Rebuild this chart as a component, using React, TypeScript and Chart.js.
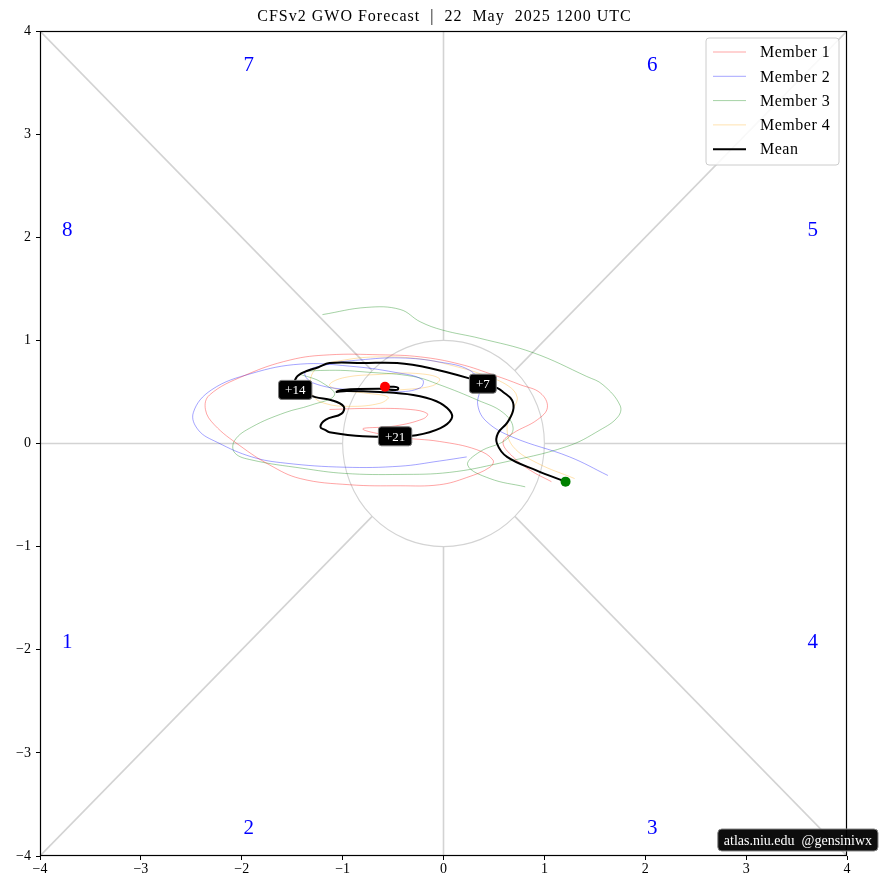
import React, { useEffect, useRef } from "react";
import { Chart, registerables } from "chart.js";

Chart.register(...registerables);

const SERIF = '"Liberation Serif", "DejaVu Serif", serif';

const TITLE = "CFSv2 GWO Forecast  |  22  May  2025 1200 UTC";
const WATERMARK = "atlas.niu.edu  @gensiniwx";
const AXIS_TICKS = [-4, -3, -2, -1, 0, 1, 2, 3, 4];

// Phase labels (text and their data positions)
const phaseLabels = ["1", "2", "3", "4", "5", "6", "7", "8"];
const phaseX = [-3.73, -1.93, 2.07, 3.66, 3.66, 2.07, -1.93, -3.73];
const phaseY = [-1.93, -3.73, -3.73, -1.93, 2.07, 3.67, 3.67, 2.07];

// Ensemble members
const member1X = [1.07, 0.86, 0.69, 0.59, 0.69, 0.93, 1.03, 0.96, 0.76, 0.51, 0.16, -0.23, -0.63, -1.13, -1.52, -1.97, -2.32, -2.36, -2.27, -2.02, -1.72, -1.42, -0.93, -0.43, -0.04, 0.23, 0.46, 0.49, 0.33, -0.04, -0.43, -0.8, -0.48, -0.2, -0.16, -0.33, -0.73, -1.13];
const member1Y = [-0.37, -0.26, -0.13, 0.01, 0.1, 0.23, 0.35, 0.49, 0.57, 0.66, 0.77, 0.84, 0.86, 0.86, 0.81, 0.66, 0.47, 0.33, 0.18, -0.02, -0.21, -0.34, -0.4, -0.41, -0.4, -0.33, -0.23, -0.16, -0.06, 0.02, 0.06, 0.14, 0.17, 0.24, 0.29, 0.33, 0.34, 0.33];

const member2X = [1.63, 1.25, 0.69, 0.43, 0.34, 0.36, 0.26, -0.04, -0.43, -0.83, -1.13, -1.37, -1.3, -0.93, -0.48, -0.23, -0.21, -0.48, -0.93, -1.42, -1.9, -2.3, -2.48, -2.43, -2.24, -1.9, -1.57, -0.98, -0.43, -0.04, 0.23];
const member2Y = [-0.31, -0.13, 0.06, 0.21, 0.37, 0.57, 0.71, 0.79, 0.83, 0.81, 0.77, 0.69, 0.59, 0.52, 0.5, 0.54, 0.62, 0.69, 0.75, 0.77, 0.68, 0.52, 0.3, 0.13, 0.01, -0.13, -0.19, -0.23, -0.22, -0.17, -0.13];

const member3X = [0.81, 0.46, 0.24, 0.36, 0.61, 0.69, 0.59, 0.34, -0.04, -0.3, -0.73, -1.13, -1.42, -1.22, -1.08, -1.32, -1.57, -1.9, -2.07, -2.07, -1.9, -1.4, -0.98, -0.43, 0.06, 0.56, 1.22, 1.55, 1.73, 1.75, 1.58, 1.42, 0.89, 0.36, -0.01, -0.23, -0.43, -0.76, -1.2];
const member3Y = [-0.42, -0.34, -0.21, -0.08, 0.03, 0.15, 0.3, 0.42, 0.57, 0.65, 0.69, 0.71, 0.68, 0.6, 0.47, 0.37, 0.3, 0.16, 0.03, -0.09, -0.16, -0.24, -0.29, -0.3, -0.28, -0.19, -0.03, 0.13, 0.26, 0.37, 0.57, 0.65, 0.88, 1.02, 1.1, 1.18, 1.3, 1.32, 1.25];

const member4X = [1.3, 0.93, 0.69, 0.63, 0.69, 0.73, 0.64, 0.41, 0.11, -0.23, -0.63, -0.98, -1.24, -1.32, -1.3, -1.18, -0.93, -0.63, -0.55, -0.78, -1.03, -1.13, -0.98, -0.63, -0.28, -0.04, -0.11, -0.43, -0.73];
const member4Y = [-0.34, -0.19, -0.03, 0.16, 0.33, 0.45, 0.56, 0.66, 0.75, 0.82, 0.84, 0.81, 0.74, 0.62, 0.47, 0.39, 0.36, 0.39, 0.45, 0.49, 0.52, 0.57, 0.64, 0.67, 0.68, 0.63, 0.56, 0.52, 0.5];

// Ensemble mean
const meanX = [1.21, 0.92, 0.63, 0.53, 0.54, 0.63, 0.69, 0.68, 0.59, 0.53, 0.39, 0.26, -0.13, -0.46, -0.8, -1.13, -1.24, -1.41, -1.47, -1.47, -1.27, -1.11, -0.99, -1.01, -1.17, -1.22, -1.17, -1.13, -0.8, -0.48, -0.27, -0.03, 0.08, 0.06, -0.07, -0.3, -0.63, -0.96, -1.06, -1.0, -0.63, -0.46, -0.45, -0.5, -0.58];
const meanY = [-0.37, -0.26, -0.13, 0.0, 0.1, 0.2, 0.32, 0.42, 0.5, 0.54, 0.58, 0.63, 0.73, 0.78, 0.78, 0.78, 0.74, 0.68, 0.62, 0.52, 0.45, 0.42, 0.36, 0.29, 0.23, 0.16, 0.13, 0.11, 0.07, 0.07, 0.08, 0.15, 0.24, 0.32, 0.41, 0.47, 0.5, 0.51, 0.5, 0.52, 0.53, 0.52, 0.54, 0.55, 0.55];

// Lead-time labels and the mean point they sit on
const leadLabels = ["+7", "+14", "+21"];
const leadPoint = [10, 19, 29];

const seriesLabels = ["Member 1", "Member 2", "Member 3", "Member 4", "Mean"];
const seriesColors = [
  "rgba(255,0,0,0.45)",
  "rgba(0,0,255,0.45)",
  "rgba(0,128,0,0.45)",
  "rgba(255,165,0,0.4)",
  "#000000",
];
const seriesWidths = [0.8, 0.8, 0.8, 0.8, 2];

// Guide segments (phase-diagram reference lines), data units
const guideSegments = [
  [-4, 0, -1, 0],
  [1, 0, 4, 0],
  [0, 1, 0, 4],
  [0, -1, 0, -4],
  [0.7071, 0.7071, 4, 4],
  [-0.7071, 0.7071, -4, 4],
  [-0.7071, -0.7071, -4, -4],
  [0.7071, -0.7071, 4, -4],
];

const zip = (xs: number[], ys: number[]) => xs.map((v, i) => ({ x: v, y: ys[i] }));

const fmtTick = (v: number | string) => {
  const n = Number(v);
  return n < 0 ? "\u2212" + Math.abs(n) : String(n);
};

const overlayPlugin = {
  id: "overlay",
  beforeDatasetsDraw(chart: any) {
    const { ctx, chartArea, scales } = chart;
    const xs = scales.x;
    const ys = scales.y;
    ctx.save();
    ctx.beginPath();
    ctx.rect(chartArea.left, chartArea.top, chartArea.width, chartArea.height);
    ctx.clip();
    ctx.strokeStyle = "#d3d3d3";
    ctx.lineWidth = 1.6;
    for (const [x0, y0, x1, y1] of guideSegments) {
      ctx.beginPath();
      ctx.moveTo(xs.getPixelForValue(x0), ys.getPixelForValue(y0));
      ctx.lineTo(xs.getPixelForValue(x1), ys.getPixelForValue(y1));
      ctx.stroke();
    }
    const cx = xs.getPixelForValue(0);
    const cy = ys.getPixelForValue(0);
    ctx.lineWidth = 1.1;
    ctx.beginPath();
    ctx.ellipse(cx, cy, xs.getPixelForValue(1) - cx, cy - ys.getPixelForValue(1), 0, 0, Math.PI * 2);
    ctx.stroke();

    ctx.fillStyle = "#0000ff";
    ctx.font = `21px ${SERIF}`;
    ctx.textAlign = "center";
    ctx.textBaseline = "middle";
    phaseLabels.forEach((t, i) => {
      ctx.fillText(t, xs.getPixelForValue(phaseX[i]), ys.getPixelForValue(phaseY[i]));
    });
    ctx.restore();
  },
  afterDatasetsDraw(chart: any) {
    const { ctx, scales } = chart;
    ctx.save();
    ctx.font = `13px ${SERIF}`;
    ctx.textAlign = "center";
    ctx.textBaseline = "middle";
    leadLabels.forEach((t, i) => {
      const k = leadPoint[i];
      const px = scales.x.getPixelForValue(meanX[k]);
      const py = scales.y.getPixelForValue(meanY[k]);
      const w = ctx.measureText(t).width + 13;
      const h = 19;
      ctx.beginPath();
      ctx.roundRect(px - w / 2, py - h / 2, w, h, 3);
      ctx.fillStyle = "#000";
      ctx.fill();
      ctx.strokeStyle = "#777";
      ctx.lineWidth = 1;
      ctx.stroke();
      ctx.fillStyle = "#fff";
      ctx.fillText(t, px, py + 1);
    });
    ctx.restore();
  },
  afterDraw(chart: any) {
    const { ctx, chartArea, width } = chart;
    ctx.save();
    // frame
    ctx.strokeStyle = "#000";
    ctx.lineWidth = 1.2;
    ctx.strokeRect(chartArea.left + 0.5, chartArea.top + 0.5, chartArea.width - 1, chartArea.height - 1);

    // title
    ctx.fillStyle = "#000";
    ctx.font = `16px ${SERIF}`;
    (ctx as any).letterSpacing = "1px";
    ctx.textAlign = "center";
    ctx.textBaseline = "middle";
    ctx.fillText(TITLE, (chartArea.left + chartArea.right) / 2 + 1, 17);

    // legend
    const lw = 133;
    const lh = 127;
    const lx = chartArea.right - 8 - lw;
    const ly = chartArea.top + 7;
    (ctx as any).letterSpacing = "0px";
    ctx.beginPath();
    ctx.roundRect(lx, ly, lw, lh, 3);
    ctx.fillStyle = "rgba(255,255,255,0.85)";
    ctx.fill();
    ctx.strokeStyle = "#cccccc";
    ctx.lineWidth = 1;
    ctx.stroke();
    ctx.font = `16px ${SERIF}`;
    (ctx as any).letterSpacing = "0.5px";
    ctx.textAlign = "left";
    seriesLabels.forEach((t, i) => {
      const ry = ly + 14 + i * 24.3;
      ctx.beginPath();
      ctx.moveTo(lx + 7, ry);
      ctx.lineTo(lx + 40, ry);
      ctx.strokeStyle = seriesColors[i];
      ctx.lineWidth = seriesWidths[i];
      ctx.stroke();
      ctx.fillStyle = "#000";
      ctx.fillText(t, lx + 54, ry + 1);
    });

    // watermark
    ctx.font = `14px ${SERIF}`;
    (ctx as any).letterSpacing = "0px";
    const tw = ctx.measureText(WATERMARK).width;
    const bw = tw + 12;
    const bh = 22;
    const bx = width - 3 - bw;
    const by = chartArea.bottom - 27;
    ctx.beginPath();
    ctx.roundRect(bx, by, bw, bh, 4);
    ctx.fillStyle = "rgba(0,0,0,0.95)";
    ctx.fill();
    ctx.strokeStyle = "#888";
    ctx.lineWidth = 1;
    ctx.stroke();
    ctx.fillStyle = "#fff";
    ctx.textAlign = "center";
    ctx.fillText(WATERMARK, bx + bw / 2, by + bh / 2 + 1);
    ctx.restore();
  },
};

export default function App() {
  const ref = useRef<HTMLCanvasElement>(null);
  useEffect(() => {
    const memberXs = [member1X, member2X, member3X, member4X];
    const memberYs = [member1Y, member2Y, member3Y, member4Y];
    const datasets: any[] = [
      {
        label: "start",
        data: [{ x: meanX[0], y: meanY[0] }],
        pointRadius: 5,
        pointBackgroundColor: "#008000",
        pointBorderWidth: 0,
        showLine: false,
      },
      {
        label: "end",
        data: [{ x: meanX[meanX.length - 1], y: meanY[meanY.length - 1] }],
        pointRadius: 5,
        pointBackgroundColor: "#ff0000",
        pointBorderWidth: 0,
        showLine: false,
      },
      {
        label: seriesLabels[4],
        data: zip(meanX, meanY),
        borderColor: seriesColors[4],
        borderWidth: seriesWidths[4],
        showLine: true,
        pointRadius: 0,
        tension: 0.4,
      },
    ];
    memberXs.forEach((xs, i) => {
      datasets.push({
        label: seriesLabels[i],
        data: zip(xs, memberYs[i]),
        borderColor: seriesColors[i],
        borderWidth: seriesWidths[i],
        showLine: true,
        pointRadius: 0,
        tension: 0.4,
      });
    });

    const axisCommon = (fit: (s: any) => void, pad: number) => ({
      type: "linear" as const,
      min: -4,
      max: 4,
      afterBuildTicks: (s: any) => {
        s.ticks = AXIS_TICKS.map((v) => ({ value: v }));
      },
      afterFit: fit,
      ticks: {
        color: "#000",
        font: { family: SERIF, size: 14 },
        padding: pad,
        maxRotation: 0,
        callback: (v: any) => fmtTick(v),
      },
      grid: {
        display: true,
        drawOnChartArea: false,
        drawTicks: true,
        tickLength: 4,
        color: "#000",
      },
      border: { display: false },
    });

    const chart = new Chart(ref.current!, {
      type: "scatter",
      data: { datasets },
      options: {
        animation: false,
        responsive: false,
        devicePixelRatio: 1,
        layout: { padding: { left: 0, top: 31, right: 34, bottom: 0 } },
        plugins: {
          legend: { display: false },
          title: { display: false },
          tooltip: { enabled: false },
        },
        scales: {
          x: axisCommon((s: any) => {
            s.height = 34;
          }, 1),
          y: axisCommon((s: any) => {
            s.width = 40;
          }, 5),
        },
      },
      plugins: [overlayPlugin],
    } as any);
    return () => chart.destroy();
  }, []);

  return (
    <div style={{ position: "fixed", left: 0, top: 0, width: 881, height: 890, background: "#fff" }}>
      <canvas ref={ref} width={881} height={890} style={{ display: "block", width: 881, height: 890 }} />
    </div>
  );
}
